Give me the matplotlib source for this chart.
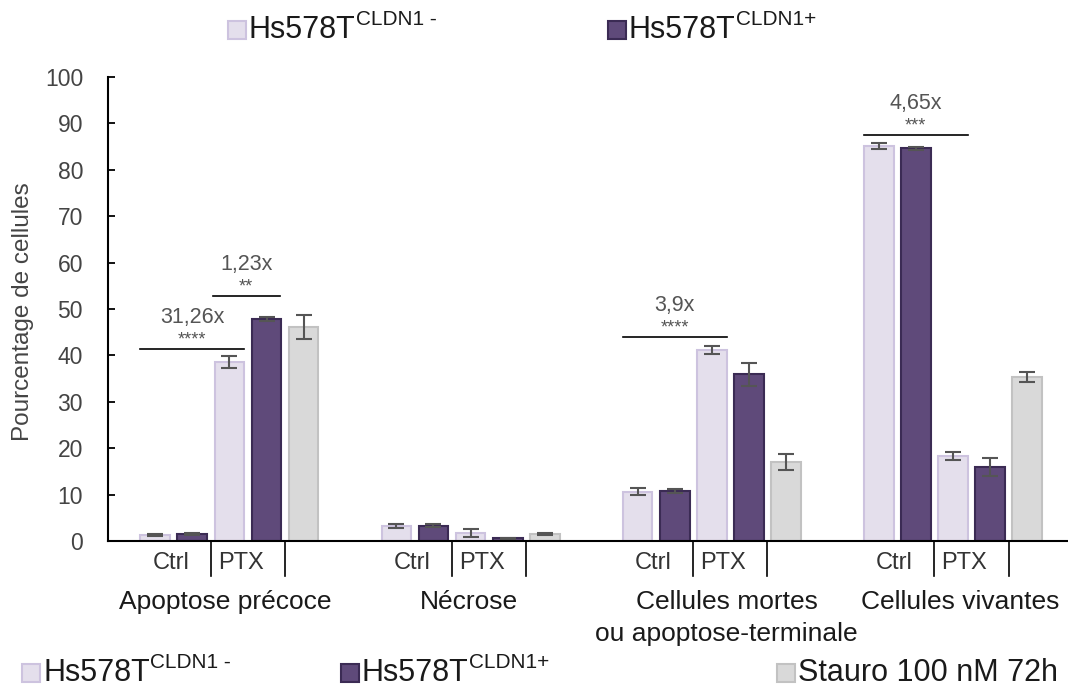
import matplotlib
matplotlib.use('Agg')
import matplotlib.pyplot as plt
from matplotlib.patches import Rectangle
import numpy as np

plt.rcParams['font.family'] = ['Liberation Sans', 'DejaVu Sans']

categories = ['Apoptose précoce', 'Nécrose',
              'Cellules mortes\nou apoptose-terminale', 'Cellules vivantes']
cat_offsets = [1.9, 1.95, 2.4, 2.2]

neg_ctrl = [1.3, 3.2, 10.6, 85.2]
neg_ctrl_err = [0.2, 0.4, 0.75, 0.65]
pos_ctrl = [1.5, 3.3, 10.8, 84.6]
pos_ctrl_err = [0.2, 0.3, 0.5, 0.3]
neg_ptx = [38.6, 1.8, 41.2, 18.4]
neg_ptx_err = [1.3, 0.85, 0.9, 0.85]
pos_ptx = [47.9, 0.6, 35.9, 15.9]
pos_ptx_err = [0.4, 0.1, 2.5, 1.9]
stauro = [46.2, 1.5, 17.0, 35.4]
stauro_err = [2.6, 0.2, 1.8, 1.1]

# (group, start, end, line height, fold change, stars)
sig = [(0, -0.4, 2.4, 41.4, '31,26x', '****'),
       (0, 1.55, 3.35, 52.7, '1,23x', '**'),
       (2, -0.4, 2.4, 43.9, '3,9x', '****'),
       (3, -0.4, 2.4, 87.5, '4,65x', '***')]

light = '#e4dfec'
light_edge = '#cdc3df'
dark = '#5f4a7a'
dark_edge = '#3b2b54'
grey = '#d9d9d9'
grey_edge = '#c2c2c2'
err_col = '#555555'
txt_col = '#1a1a1a'

fig = plt.figure(figsize=(10.68, 6.89), dpi=100)
ax = fig.add_axes([0.1012, 0.2148, 0.8988, 0.6734])

gstep = 6.5
g = np.arange(len(categories)) * gstep
w = 0.8
series = [(neg_ctrl, neg_ctrl_err, light, light_edge),
          (pos_ctrl, pos_ctrl_err, dark, dark_edge),
          (neg_ptx, neg_ptx_err, light, light_edge),
          (pos_ptx, pos_ptx_err, dark, dark_edge),
          (stauro, stauro_err, grey, grey_edge)]
for j, (vals, errs, fc, ec) in enumerate(series):
    ax.bar(g + j, vals, w, color=fc, edgecolor=ec, linewidth=1.5, zorder=2)
    ax.errorbar(g + j, vals, yerr=errs, fmt='none', ecolor=err_col,
                elinewidth=1.5, capsize=6, capthick=1.5, zorder=3)

ax.set_ylim(0, 100)
ax.set_xlim(-1.27, 24.6)
ax.set_yticks(range(0, 101, 10))
ax.tick_params(axis='y', direction='in', length=5, width=1.3,
               labelsize=16.5, colors='black', labelcolor='#444444', pad=18)
ax.set_xticks([])
for s in ['top', 'right']:
    ax.spines[s].set_visible(False)
for s in ['left', 'bottom']:
    ax.spines[s].set_linewidth(1.5)
ax.spines['bottom'].set_zorder(4)
ax.set_ylabel('Pourcentage de cellules', fontsize=17.5, color='#444444')
ax.yaxis.set_label_coords(-0.077, 0.4935)

# sub-labels and separators under the axis
trans = ax.get_xaxis_transform()
for i, x0 in enumerate(g):
    for sx in (x0 + 1.5, x0 + 3.5):
        ax.plot([sx, sx], [0, -0.075], transform=trans, color='black',
                lw=1.2, clip_on=False)
    ax.text(x0 + 0.42, -0.047, 'Ctrl', transform=trans, ha='center',
            va='center', fontsize=17, color='#333333')
    ax.text(x0 + 2.3, -0.047, 'PTX', transform=trans, ha='center',
            va='center', fontsize=17, color='#333333')
    ax.text(x0 + cat_offsets[i], -0.105, categories[i], transform=trans,
            ha='center', va='top', fontsize=19, color=txt_col,
            linespacing=1.45)

# significance bars
for gi, a, b, yl, fold, stars in sig:
    x0 = g[gi]
    ax.plot([x0 + a, x0 + b], [yl, yl], color='black', lw=1.2, zorder=3)
    xm = x0 + (a + b) / 2
    ax.text(xm, yl + 6.8, fold, ha='center', va='center', fontsize=15.5,
            color='#555555')
    ax.text(xm, yl + 2.0, stars, ha='center', va='center', fontsize=13,
            color='#555555')


def legend_item(xpx, ypx, fc, ec, label, sup=None, size=22):
    fx = xpx / 1068
    fy = 1 - ypx / 689
    sq = 18
    fig.patches.append(Rectangle((fx, fy - sq / 2 / 689), sq / 1068, sq / 689,
                                 transform=fig.transFigure, facecolor=fc,
                                 edgecolor=ec, linewidth=1.5))
    t = fig.text(fx + (sq + 3) / 1068, fy, label, fontsize=size,
                 va='center', ha='left', color=txt_col)
    if sup:
        ax.annotate(sup, xy=(1, 0.84), xycoords=t, fontsize=size * 0.68,
                    va='center', ha='left', color=txt_col,
                    annotation_clip=False)


legend_item(228, 30, light, light_edge, 'Hs578T', 'CLDN1 -')
legend_item(608, 30, dark, dark_edge, 'Hs578T', 'CLDN1+')
legend_item(22, 673, light, light_edge, 'Hs578T', 'CLDN1 -')
legend_item(341, 673, dark, dark_edge, 'Hs578T', 'CLDN1+')
legend_item(777, 673, grey, grey_edge, 'Stauro 100 nM 72h')

fig.savefig('out.png', dpi=100)
